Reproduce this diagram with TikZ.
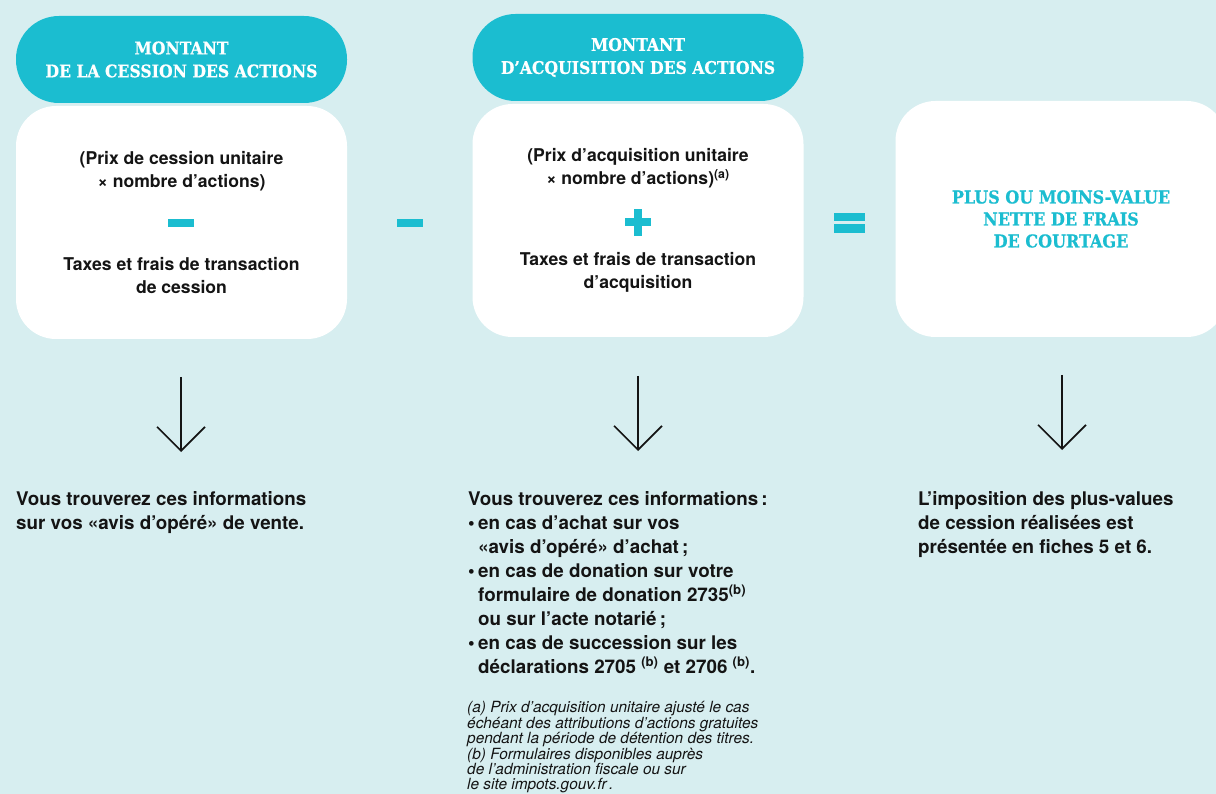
\documentclass[tikz,border=0pt]{standalone}
\usepackage{fontspec}
\setmainfont{TeX Gyre Heros}
\newfontfamily\slabfont[FakeBold=0.6]{DejaVu Serif Condensed}
\usepackage{tikz}
\usetikzlibrary{arrows.meta}
\definecolor{fondbleu}{HTML}{D7EEF0}
\definecolor{turquoise}{HTML}{1BBDD0}
\definecolor{encre}{HTML}{141414}
\tikzset{pill/.style={rounded corners=43pt, fill=turquoise, text=white, minimum width=331pt, minimum height=87pt, align=center, font=\slabfont\bfseries\fontsize{17.4}{23}\selectfont}}
\tikzset{carte/.style={rounded corners=40pt, fill=white, minimum width=331pt, minimum height=233pt}}
\tikzset{boxtext/.style={align=center, inner sep=0pt, text=encre, font=\bfseries\fontsize{17.6}{23}\selectfont}}
\tikzset{resultat/.style={align=center, inner sep=0pt, text=turquoise, font=\slabfont\bfseries\fontsize{17.8}{22}\selectfont}}
\tikzset{signe/.style={fill=turquoise, inner sep=0pt, minimum width=26pt, minimum height=8pt}}
\tikzset{infotext/.style={align=left, anchor=north west, inner sep=0pt, text=encre, font=\bfseries\fontsize{18.8}{24}\selectfont}}
\tikzset{notetext/.style={align=left, anchor=north west, inner sep=0pt, text=encre, font=\itshape\fontsize{15.4}{14.5}\selectfont}}
\tikzset{fleche/.style={line width=1.6pt, encre, -{Straight Barb[length=24pt,width=48pt]}}}

\begin{document}
\begin{tikzpicture}[x=1pt,y=-1pt]
\useasboundingbox (0,0) rectangle (1216,794);
\fill[fondbleu] (0,0) rectangle (1216,794);

% montant de la cession
\node (hd1) at (181.5,59.5)[pill]{MONTANT\\DE LA CESSION DES ACTIONS};
\node (carte1) at (181.5,222.5)[carte]{};
\node (prix1) at (181.5,171)[boxtext]{(Prix de cession unitaire\\× nombre d’actions)};
\node (moins1) at (181,223.5)[signe]{};
\node (taxes1) at (181.5,276)[boxtext]{Taxes et frais de transaction\\de cession};

\node (moins2) at (410,223)[signe]{};

% montant d'acquisition
\node (hd2) at (638,57.5)[pill]{MONTANT\\D’ACQUISITION DES ACTIONS};
\node (carte2) at (638,220.5)[carte]{};
\node (prix2) at (638,168)[boxtext]{(Prix d’acquisition unitaire\\× nombre d’actions)\textsuperscript{(a)}};
\node (plush) at (638,222.5)[signe]{};
\node (plusv) at (638,222.5)[signe, minimum width=8pt, minimum height=27pt]{};
\node (taxes2) at (638,272)[boxtext]{Taxes et frais de transaction\\d’acquisition};

\node (egal1) at (849.5,217)[signe, minimum width=31pt, minimum height=8.5pt]{};
\node (egal2) at (849.5,228.5)[signe, minimum width=31pt, minimum height=8.5pt]{};

% resultat
\node (carte3) at (1061,219)[carte, minimum height=236pt]{};
\node (pmv) at (1061,219)[resultat]{PLUS OU MOINS-VALUE\\NETTE DE FRAIS\\DE COURTAGE};

\coordinate (f1haut) at (181,377);
\coordinate (f1bas) at (181,452);
\coordinate (f2haut) at (638,376);
\coordinate (f2bas) at (638,451);
\coordinate (f3haut) at (1062,375);
\coordinate (f3bas) at (1062,450);
\draw[fleche] (f1haut)--(f1bas);
\draw[fleche] (f2haut)--(f2bas);
\draw[fleche] (f3haut)--(f3bas);

\node (info1) at (16,491)[infotext]{Vous trouverez ces informations\\sur vos «avis d’opéré» de vente.};
\node (info2) at (468,491)[infotext]{Vous trouverez ces informations\,:\\
\makebox[10pt][l]{•}en cas d’achat sur vos\\
\hspace*{10pt}«avis d’opéré» d’achat\,;\\
\makebox[10pt][l]{•}en cas de donation sur votre\\
\hspace*{10pt}formulaire de donation 2735\textsuperscript{(b)}\\
\hspace*{10pt}ou sur l’acte notarié\,;\\
\makebox[10pt][l]{•}en cas de succession sur les\\
\hspace*{10pt}déclarations 2705 \textsuperscript{(b)} et 2706 \textsuperscript{(b)}.};
\node (notes) at (467,701)[notetext]{(a) Prix d’acquisition unitaire ajusté le cas\\
échéant des attributions d’actions gratuites\\
pendant la période de détention des titres.\\
(b) Formulaires disponibles auprès\\
de l’administration fiscale ou sur\\
le site impots.gouv.fr\,.};
\node (info3) at (918,491)[infotext]{L’imposition des plus-values\\de cession réalisées est\\présentée en fiches 5 et 6.};
\end{tikzpicture}
\end{document}
